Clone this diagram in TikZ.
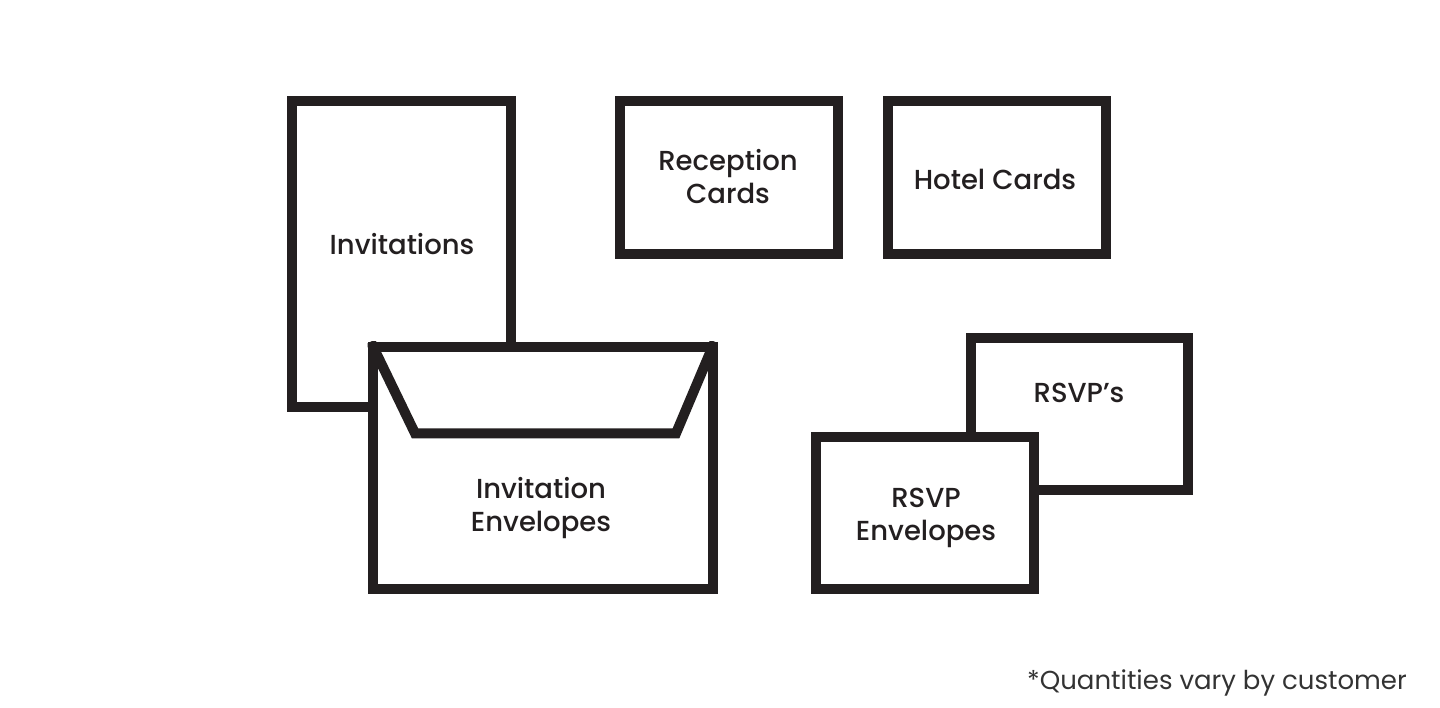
\documentclass[tikz,border=0pt]{standalone}
\usepackage{fontspec}
\setmainfont{Poppins}
\newfontfamily\medfont{Poppins}[UprightFont={* Medium}]
\definecolor{ink}{HTML}{231F20}
\definecolor{note}{HTML}{333333}
\begin{document}
\begin{tikzpicture}[x=1pt,y=-1pt,
  card/.style={draw=ink,line width=10pt,fill=white,inner sep=0pt,minimum width=#1},
  lbl/.style={text=ink,font=\medfont\fontsize{27.5}{33}\selectfont,align=center,inner sep=0pt}]
\useasboundingbox (0,0) rectangle (1440,708);
% Invitations
\node[card=218.7pt,minimum height=305.7pt] (inv) at (401.7,254) {};
\node[lbl] (invt) at (402,244) {Invitations};
% Invitation envelope
\node[card=340pt,minimum height=242.6pt] (env) at (542.7,468) {};
\coordinate (fl) at (415,433.3);
\coordinate (fr) at (676,433.3);
\begin{scope}
\clip (env.north west) rectangle (env.south east);
\draw[ink,line width=10pt,line join=miter] ([xshift=3pt]env.north west) -- (fl) -- (fr) -- ([xshift=-3pt]env.north east);
\end{scope}
\node[card=340pt,minimum height=242.6pt,fill=none] (envb) at (542.7,468) {};
\node[lbl] (envt) at (541,508) {Invitation\\Envelopes};
% Reception cards
\node[card=218pt,minimum height=153pt] (rec) at (728.7,177.5) {};
\node[lbl] (rect) at (728,177) {Reception\\Cards};
% Hotel cards
\node[card=218.3pt,minimum height=153pt] (hot) at (996.9,177.5) {};
\node[lbl] (hott) at (995,179) {Hotel Cards};
% RSVPs
\node[card=217.6pt,minimum height=152.3pt] (rsvp) at (1079.5,413.9) {};
\node[lbl] (rsvpt) at (1079,393) {RSVP’s};
% RSVP envelopes
\node[card=218pt,minimum height=152.6pt] (renv) at (925,513) {};
\node[lbl] (renvt) at (926,518) {RSVP\\Envelopes};
% footnote
\node[text=note,font=\fontsize{26}{30}\selectfont,anchor=base east,inner sep=0pt] (fn) at (1407,689) {*Quantities vary by customer};
\end{tikzpicture}
\end{document}
